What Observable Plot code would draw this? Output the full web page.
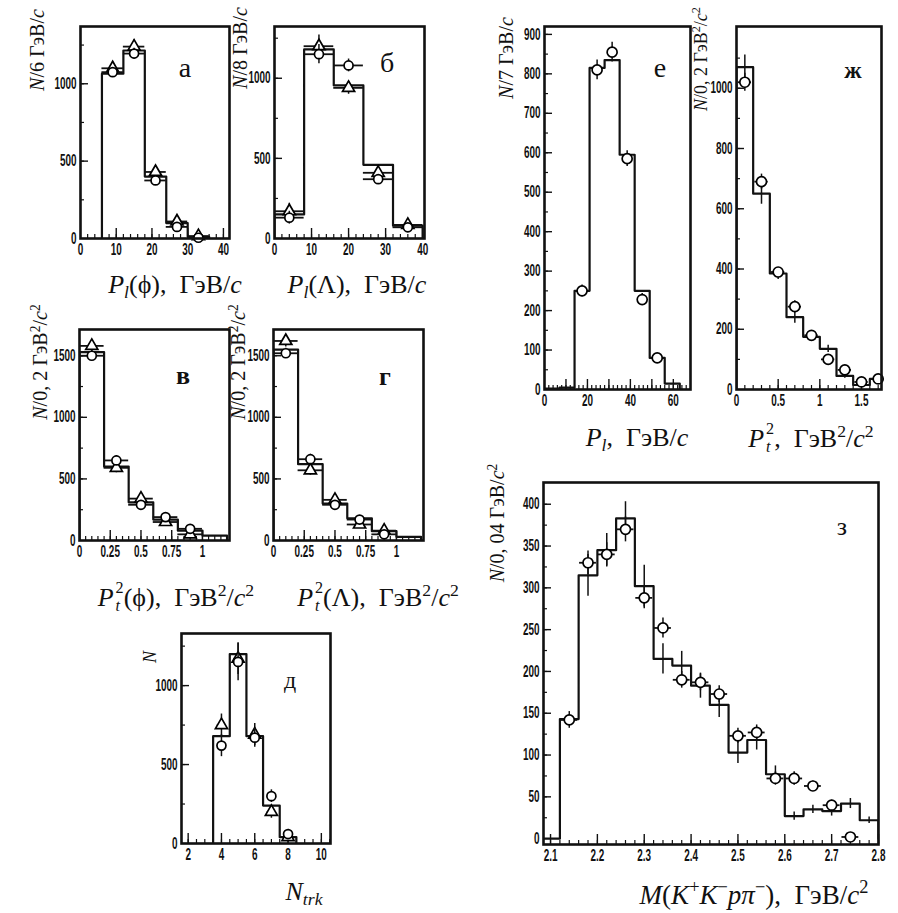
<!DOCTYPE html>
<html><head><meta charset="utf-8">
<script src="https://cdn.jsdelivr.net/npm/d3@7"></script>
<script src="https://cdn.jsdelivr.net/npm/@observablehq/plot@0.6"></script>
<style>
body{margin:0;background:#fff;}
#fig{position:relative;width:898px;height:913px;overflow:hidden;background:#fff;}
#fig svg{position:absolute;overflow:visible;}
.t{position:absolute;font-family:"Liberation Serif","DejaVu Serif",serif;color:#111;white-space:nowrap;line-height:1;transform:translate(-50%,-50%);}
.t.r{transform:translate(-50%,-50%) rotate(-90deg);}
.t sup{font-size:0.68em;vertical-align:0.55em;line-height:0;}
.t sub{font-size:0.68em;vertical-align:-0.3em;line-height:0;}
.ss{display:inline-block;vertical-align:-0.3em;line-height:1.1;font-size:0.62em;text-align:left;margin-left:0.12em;}
.ss>span,.ss>i{display:block;}
</style></head><body><div id="fig"></div><script>
// ---------- Panel а : P_l(phi) ----------
const aEdges=[6,12,18,24,30,36];
const aHist=[1065,1215,400,100,12];
const aCenters=[9,15,21,27,33];
const aCirc=[1075,1195,375,75,5];
const aCircErr=[30,35,25,15,5];
const aTri=[1100,1240,430,110,15];
const aTriErr=[40,45,35,25,5];
// ---------- Panel б : P_l(Lambda) ----------
const bEdges=[0,8,16,24,32,40];
const bHist=[150,1180,955,460,80];
const bCenters=[4,12,20,28,36];
const bCirc=[130,1150,1080,370,70];
const bCircErr=[40,60,40,30,20];
const bTri=[170,1200,940,410,85];
const bTriErr=[50,70,40,50,25];
// ---------- Panel в : Pt^2(phi) ----------
const cEdges=[0,0.2,0.4,0.6,0.8,1.0,1.2];
const cHist=[1530,600,310,170,80,40];
const cCenters=[0.1,0.3,0.5,0.7,0.9];
const cCirc=[1500,650,290,190,95];
const cCircErr=[40,40,30,25,20];
const cTri=[1580,590,340,150,50];
const cTriErr=[50,40,40,30,20];
// ---------- Panel г : Pt^2(Lambda) ----------
const dEdges=[0,0.2,0.4,0.6,0.8,1.0,1.2];
const dHist=[1550,620,300,180,75,30];
const dCenters=[0.1,0.3,0.5,0.7,0.9];
const dCirc=[1520,660,290,170,50];
const dCircErr=[40,40,30,25,15];
const dTri=[1620,570,330,130,80];
const dTriErr=[50,40,40,30,20];
// ---------- Panel д : N_trk ----------
const eEdges=[3.5,4.5,5.5,6.5,7.5,8.5];
const eHist=[680,1200,680,240,40];
const eCenters=[4,5,6,7,8];
const eCirc=[620,1150,670,300,60];
const eCircErr=[70,120,60,40,15];
const eTri=[750,1170,690,200,40];
const eTriErr=[70,100,70,40,10];
// ---------- Panel е : P_l ----------
const fEdges=[0,7,14,21,28,35,42,49,56,63];
const fHist=[2,5,250,815,835,595,250,80,15];
const fCenters=[17.5,24.5,31.5,38.5,45.5,52.5];
const fCirc=[250,810,855,585,228,80];
const fCircErr=[15,25,25,20,15,10];
// ---------- Panel ж : Pt^2 ----------
const gEdges=[0,0.2,0.4,0.6,0.8,1.0,1.2,1.4,1.6,1.8];
const gHist=[1070,650,385,240,175,135,45,15,35];
const gCenters=[0.1,0.3,0.5,0.7,0.9,1.1,1.3,1.5,1.7];
const gHistErr=[40,35,20,20,15,12,8,5,6];
const gCirc=[1020,690,390,275,180,100,65,25,35];
const gCircErr=[30,25,15,20,15,15,10,8,8];
// ---------- Panel з : M(K+K-p pi-) ----------
const hEdges=[2.08,2.12,2.16,2.20,2.24,2.28,2.32,2.36,2.40,2.44,2.48,2.52,2.56,2.60,2.64,2.68,2.72,2.76,2.80];
const hHist=[0,143,315,345,383,302,215,207,183,160,103,118,77,27,35,33,42,22];
const hHistCenters=[2.18,2.22,2.26,2.30,2.34,2.38,2.42,2.46,2.50,2.54,2.58,2.62,2.66,2.70,2.74,2.78];
const hHistVals=[315,345,383,302,215,207,183,160,103,118,77,27,35,33,42,22];
const hHistErr=[25,20,20,25,18,17,15,15,13,12,10,5,5,6,6,4];
const hCenters=[2.14,2.18,2.22,2.26,2.30,2.34,2.38,2.42,2.46,2.50,2.54,2.58,2.62,2.66,2.70,2.74];
const hCirc=[142,330,340,370,288,252,190,187,173,123,127,72,72,63,40,2];
const hCircErr=[10,14,14,15,13,12,10,10,10,9,9,8,8,6,6,2];

const fig=document.getElementById("fig");
const fmt=d=>String(d);
function histSteps(edges,hist){
  const p=[{x:edges[0],y:0}];
  hist.forEach((v,i)=>p.push({x:edges[i],y:v}));
  p.push({x:edges[edges.length-1],y:hist[hist.length-1]});
  p.push({x:edges[edges.length-1],y:0});
  return p;
}
function pts(xs,ys,errs,hw){return xs.map((x,i)=>({x,y:ys[i],e:errs[i],hw}));}
function panel(c){
  const mL=c.mL??42,mR=3,mT=3,mB=c.mB??26;
  const marks=[
    Plot.tickX(c.xMinor,{x:d=>d,insetTop:c.fh-4,strokeWidth:1.2}),
    Plot.tickX(c.xMajor,{x:d=>d,insetTop:c.fh-10,strokeWidth:1.4}),
    Plot.tickY(c.yMinor,{y:d=>d,insetRight:c.fw-4,strokeWidth:1.2}),
    Plot.tickY(c.yMajor,{y:d=>d,insetRight:c.fw-8,strokeWidth:1.4}),
    Plot.axisX(c.xLabels,{tickSize:0,tickPadding:5,tickFormat:fmt,label:null,fontSize:16,fontWeight:"bold"}),
    Plot.axisY(c.yLabels,{tickSize:0,tickPadding:4,tickFormat:fmt,label:null,fontSize:16,fontWeight:"bold"}),
    Plot.line(histSteps(c.edges,c.hist),{x:"x",y:"y",curve:"step-after",strokeWidth:2.2,clip:true})
  ];
  for(const s of c.series){
    marks.push(Plot.ruleX(s.data,{x:"x",y1:d=>d.y-d.e,y2:d=>d.y+d.e,strokeWidth:1.5,clip:true}));
    if(s.data[0].hw>0) marks.push(Plot.ruleY(s.data,{y:"y",x1:d=>d.x-d.hw,x2:d=>d.x+d.hw,strokeWidth:1.8,clip:true}));
    if(s.symbol) marks.push(Plot.dot(s.data,{x:"x",y:"y",symbol:s.symbol,r:s.r??4.5,fill:"white",stroke:"black",strokeWidth:1.7}));
  }
  marks.push(Plot.frame({strokeWidth:2.6}));
  const svg=Plot.plot({
    width:c.fw+mL+mR,height:c.fh+mT+mB,
    marginLeft:mL,marginRight:mR,marginTop:mT,marginBottom:mB,
    x:{domain:c.xDomain},y:{domain:c.yDomain},
    style:{fontFamily:'"Liberation Sans","DejaVu Sans",sans-serif',fontSize:"16px",background:"transparent",color:"#111",overflow:"visible"},
    marks
  });
  svg.style.left=(c.left-mL)+"px";
  svg.style.top=(c.top-mT)+"px";
  fig.appendChild(svg);
  // condense the tick-label glyphs like the narrow face of the original
  svg.querySelectorAll('g[aria-label$="tick label"] text').forEach(t=>{
    const w=t.getComputedTextLength();
    if(w>0){t.setAttribute("textLength",(w*0.62).toFixed(2));t.setAttribute("lengthAdjust","spacingAndGlyphs");}
  });
}
const rng=(a,b,s)=>d3.range(a,b+s/2,s).map(v=>+v.toFixed(4));

panel({left:80,top:26,fw:149,fh:212,xDomain:[0,41.7],yDomain:[0,1370],
  xLabels:[0,10,20,30,40],xMajor:[10,20,30,40],xMinor:rng(2,40,2),
  yLabels:[0,500,1000],yMajor:[500,1000],yMinor:rng(250,1250,250),
  edges:aEdges,hist:aHist,
  series:[{data:pts(aCenters,aTri,aTriErr,3),symbol:"triangle"},{data:pts(aCenters,aCirc,aCircErr,3),symbol:"circle"}]});
panel({left:274,top:26,fw:150,fh:212,xDomain:[0,40.5],yDomain:[0,1323],
  xLabels:[0,10,20,30,40],xMajor:[10,20,30,40],xMinor:rng(2,40,2),
  yLabels:[0,500,1000],yMajor:[500,1000],yMinor:rng(250,1250,250),
  edges:bEdges,hist:bHist,
  series:[{data:pts(bCenters,bTri,bTriErr,4),symbol:"triangle"},{data:pts(bCenters,bCirc,bCircErr,4),symbol:"circle"}]});
panel({left:79,top:329,fw:150,fh:211,xDomain:[0,1.22],yDomain:[0,1713],
  xLabels:[0,0.25,0.5,0.75,1],xMajor:[0.25,0.5,0.75,1],xMinor:rng(0.05,1.2,0.05),
  yLabels:[0,500,1000,1500],yMajor:[500,1000,1500],yMinor:rng(250,1500,250),
  edges:cEdges,hist:cHist,
  series:[{data:pts(cCenters,cTri,cTriErr,0.1),symbol:"triangle"},{data:pts(cCenters,cCirc,cCircErr,0.1),symbol:"circle"}]});
panel({left:273,top:329,fw:150,fh:211,xDomain:[0,1.22],yDomain:[0,1713],
  xLabels:[0,0.25,0.5,0.75,1],xMajor:[0.25,0.5,0.75,1],xMinor:rng(0.05,1.2,0.05),
  yLabels:[0,500,1000,1500],yMajor:[500,1000,1500],yMinor:rng(250,1500,250),
  edges:dEdges,hist:dHist,
  series:[{data:pts(dCenters,dTri,dTriErr,0.1),symbol:"triangle"},{data:pts(dCenters,dCirc,dCircErr,0.1),symbol:"circle"}]});
panel({left:181,top:633,fw:149,fh:210,xDomain:[1.6,10.55],yDomain:[0,1330],
  xLabels:[2,4,6,8,10],xMajor:[2,4,6,8,10],xMinor:rng(2,10.5,0.5),
  yLabels:[0,500,1000],yMajor:[500,1000],yMinor:rng(250,1250,250),
  edges:eEdges,hist:eHist,
  series:[{data:pts(eCenters,eTri,eTriErr,0.25),symbol:"triangle"},{data:pts(eCenters,eCirc,eCircErr,0.25),symbol:"circle"}]});
panel({left:544,top:26,fw:146,fh:363,xDomain:[0,68],yDomain:[0,920],mL:36,
  xLabels:[0,20,40,60],xMajor:[10,20,30,40,50,60],xMinor:rng(2,66,2),
  yLabels:[0,100,200,300,400,500,600,700,800,900],yMajor:rng(100,900,100),yMinor:rng(50,900,50),
  edges:fEdges,hist:fHist,
  series:[{data:pts(fCenters,fCirc,fCircErr,2),symbol:"circle",r:5}]});
panel({left:736,top:26,fw:145,fh:363,xDomain:[0,1.74],yDomain:[0,1205],mL:36,
  xLabels:[0,0.5,1,1.5],xMajor:[0.5,1,1.5],xMinor:rng(0.1,1.7,0.1),
  yLabels:[0,200,400,600,800,1000],yMajor:rng(200,1000,200),yMinor:rng(100,1100,100),
  edges:gEdges,hist:gHist,
  series:[{data:pts(gCenters,gHist,gHistErr,0)},{data:pts(gCenters,gCirc,gCircErr,0.08),symbol:"circle",r:5}]});
panel({left:543,top:482,fw:335,fh:362,xDomain:[2.085,2.8],yDomain:[-7,426],mL:36,
  xLabels:[2.1,2.2,2.3,2.4,2.5,2.6,2.7,2.8],xMajor:rng(2.1,2.8,0.1),xMinor:rng(2.1,2.8,0.02),
  yLabels:rng(0,400,50),yMajor:rng(50,400,50),yMinor:rng(25,400,25),
  edges:hEdges,hist:hHist,
  series:[{data:pts(hHistCenters,hHistVals,hHistErr,0)},{data:pts(hCenters,hCirc,hCircErr,0.018),symbol:"circle",r:5}]});

// ---------- text ----------
const texts=[
  ['<i>P<sub>l</sub></i>(ϕ),&nbsp; ГэВ/<i>c</i>',175,285,26,false],
  ['<i>P<sub>l</sub></i>(Λ),&nbsp; ГэВ/<i>c</i>',357,285,26,false],
  ['<i>P</i><span class="ss"><span>2</span><i>t</i></span>(ϕ),&nbsp; ГэВ<sup>2</sup>/<i>c</i><sup>2</sup>',176,597,26,false],
  ['<i>P</i><span class="ss"><span>2</span><i>t</i></span>(Λ),&nbsp; ГэВ<sup>2</sup>/<i>c</i><sup>2</sup>',378,597,26,false],
  ['<i>N<sub>trk</sub></i>',304,892,26,false],
  ['<i>P<sub>l</sub></i>,&nbsp; ГэВ/<i>c</i>',637,438,26,false],
  ['<i>P</i><span class="ss"><span>2</span><i>t</i></span>,&nbsp; ГэВ<sup>2</sup>/<i>c</i><sup>2</sup>',811,438,26,false],
  ['<i>M</i>(<i>K</i><sup>+</sup><i>K</i><sup>−</sup><i>pπ</i><sup>−</sup>),&nbsp; ГэВ/<i>c</i><sup>2</sup>',754,895,27,false],
  ['<i>N</i>/6 ГэВ/<i>c</i>',37,50,20,true],
  ['<i>N</i>/8 ГэВ/<i>c</i>',240,48,20,true],
  ['<i>N</i>/0, 2 ГэВ<sup>2</sup>/<i>c</i><sup>2</sup>',40,362,20,true],
  ['<i>N</i>/0, 2 ГэВ<sup>2</sup>/<i>c</i><sup>2</sup>',238,362,20,true],
  ['<i>N</i>',150,657,18,true],
  ['<i>N</i>/7 ГэВ/<i>c</i>',506,58,20,true],
  ['<i>N</i>/0, 2 ГэВ<sup>2</sup>/<i>c</i><sup>2</sup>',701,59,18,true],
  ['<i>N</i>/0, 04 ГэВ/<i>c</i><sup>2</sup>',497,523,20,true],
  ['а',185,68,28,false],
  ['б',387,63,28,false],
  ['<b>в</b>',183,376,26,false],
  ['<b>г</b>',385,377,26,false],
  ['д',290,680,24,false],
  ['е',660,68,28,false],
  ['<b>ж</b>',853,70,24,false],
  ['з',842,527,26,false]
];
for(const [html,x,y,size,rot] of texts){
  const d=document.createElement("div");
  d.className="t"+(rot?" r":"");
  d.innerHTML=html;
  d.style.left=x+"px";d.style.top=y+"px";d.style.fontSize=size+"px";
  fig.appendChild(d);
}
</script></body></html>
